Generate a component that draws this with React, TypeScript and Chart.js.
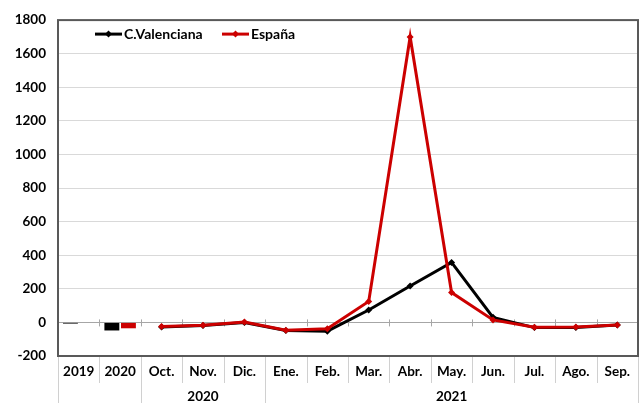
import React, { useEffect, useRef } from "react";
import { Chart, registerables } from "chart.js";

Chart.register(...registerables);

const categories = ["2019", "2020", "Oct.", "Nov.", "Dic.", "Ene.", "Feb.", "Mar.", "Abr.", "May.", "Jun.", "Jul.", "Ago.", "Sep."];
const groupLabels = [
  { label: "", from: 0, to: 1 },
  { label: "2020", from: 2, to: 4 },
  { label: "2021", from: 5, to: 13 },
];
const seriesNames = ["C.Valenciana", "España"];
const cvAnnual = [-7, -48];
const esAnnual = [-3, -35];
const cvMonthly = [-27, -19, 0, -48, -52, 74, 217, 357, 30, -31, -30, -16];
const esMonthly = [-25, -17, 2, -46, -38, 125, 1700, 178, 15, -29, -27, -15];
const yTicks = { min: -200, max: 1800, step: 200 };

const BLACK = "#000000";
const RED = "#cc0000";
const FONT = "Lato";

export default function App() {
  const ref = useRef<HTMLCanvasElement | null>(null);
  useEffect(() => {
    document.body.style.margin = "0";
    const canvas = ref.current;
    if (!canvas) return;
    const pad = (arr: number[], before: number, total: number) => {
      const out: (number | null)[] = [];
      for (let i = 0; i < total; i++) {
        const j = i - before;
        out.push(j >= 0 && j < arr.length ? arr[j] : null);
      }
      return out;
    };
    const n = categories.length;

    const overlay = {
      id: "overlay",
      beforeDatasetsDraw(chart: any) {
        const ctx = chart.ctx;
        const a = chart.chartArea;
        const y = chart.scales.y;
        const y0 = y.getPixelForValue(0);
        const w = (a.right - a.left) / n;
        ctx.save();
        ctx.strokeStyle = "#a6a6a6";
        ctx.lineWidth = 1;
        ctx.beginPath();
        ctx.moveTo(a.left, Math.round(y0) + 0.5);
        ctx.lineTo(a.right, Math.round(y0) + 0.5);
        for (let k = 1; k < n; k++) {
          const x = Math.round(a.left + k * w) + 0.5;
          ctx.moveTo(x, y0 - 3);
          ctx.lineTo(x, y0 + 4);
        }
        ctx.stroke();
        ctx.restore();
      },
      afterDraw(chart: any) {
        const ctx = chart.ctx;
        const a = chart.chartArea;
        const xs = chart.scales.x;
        const w = (a.right - a.left) / n;
        const H = chart.height;
        ctx.save();
        ctx.strokeStyle = "#d0d0d0";
        ctx.lineWidth = 1;
        ctx.beginPath();
        const majors = new Set<number>();
        groupLabels.forEach((g) => { majors.add(g.from); majors.add(g.to + 1); });
        for (let k = 0; k <= n; k++) {
          const x = Math.round(a.left + k * w) + 0.5;
          ctx.moveTo(x, a.bottom);
          ctx.lineTo(x, majors.has(k) ? H : a.bottom + 27);
        }
        ctx.stroke();
        ctx.fillStyle = "#000";
        ctx.font = `bold 13.5px ${FONT}`;
        ctx.textAlign = "center";
        ctx.textBaseline = "middle";
        categories.forEach((c, i) => {
          ctx.fillText(c, xs.getPixelForValue(i), a.bottom + 16);
        });
        groupLabels.forEach((g) => {
          if (!g.label) return;
          const x = a.left + ((g.from + g.to + 1) / 2) * w;
          ctx.fillText(g.label, x, a.bottom + 41);
        });
        ctx.strokeStyle = "#595959";
        ctx.lineWidth = 2;
        ctx.strokeRect(a.left, a.top, a.right - a.left, a.bottom - a.top);
        const items = [
          { name: seriesNames[0], color: BLACK, x: 95 },
          { name: seriesNames[1], color: RED, x: 222 },
        ];
        const ly = a.top + 14;
        ctx.font = `bold 14px ${FONT}`;
        items.forEach((it) => {
          ctx.strokeStyle = it.color;
          ctx.fillStyle = it.color;
          ctx.lineWidth = 3;
          ctx.beginPath();
          ctx.moveTo(it.x, ly);
          ctx.lineTo(it.x + 27, ly);
          ctx.stroke();
          const cx = it.x + 13.5;
          ctx.beginPath();
          ctx.moveTo(cx, ly - 3.5);
          ctx.lineTo(cx + 3.5, ly);
          ctx.lineTo(cx, ly + 3.5);
          ctx.lineTo(cx - 3.5, ly);
          ctx.closePath();
          ctx.fill();
          ctx.fillStyle = "#000";
          ctx.textAlign = "left";
          ctx.fillText(it.name, it.x + 29, ly);
        });
        ctx.restore();
      },
    };

    const chart = new Chart(canvas, {
      data: {
        labels: categories,
        datasets: [
          { type: "bar", label: seriesNames[0], data: pad(cvAnnual, 0, n), backgroundColor: BLACK, order: 2, categoryPercentage: 0.8, barPercentage: 0.9 } as any,
          { type: "bar", label: seriesNames[1], data: pad(esAnnual, 0, n), backgroundColor: RED, order: 3, categoryPercentage: 0.8, barPercentage: 0.9 } as any,
          { type: "line", label: seriesNames[0], data: pad(cvMonthly, 2, n), borderColor: BLACK, backgroundColor: BLACK, borderWidth: 3, pointStyle: "rectRot", pointRadius: 3.5, pointBorderWidth: 0, tension: 0, order: 1 } as any,
          { type: "line", label: seriesNames[1], data: pad(esMonthly, 2, n), borderColor: RED, backgroundColor: RED, borderWidth: 3, pointStyle: "rectRot", pointRadius: 3.5, pointBorderWidth: 0, tension: 0, order: 0 } as any,
        ],
      },
      options: {
        responsive: false,
        animation: false,
        devicePixelRatio: 1,
        layout: { padding: { top: 12, right: 4, left: 0, bottom: 0 } },
        plugins: { legend: { display: false }, tooltip: { enabled: false } },
        scales: {
          x: {
            type: "category",
            offset: true,
            grid: { display: false },
            border: { display: false },
            ticks: { display: false },
            afterFit: (s: any) => { s.height = 47; },
          },
          y: {
            min: yTicks.min,
            max: yTicks.max,
            ticks: {
              stepSize: yTicks.step,
              color: "#000",
              font: { family: FONT, size: 13.5, weight: "bold" },
              padding: 12,
              callback: (v: any) => String(v),
            },
            grid: { color: "#d9d9d9", drawTicks: false },
            border: { display: false },
            afterFit: (s: any) => { s.width = 58; },
          },
        },
      } as any,
      plugins: [overlay],
    });
    return () => chart.destroy();
  }, []);
  return (
    <div style={{ width: 642, height: 403, background: "#fff" }}>
      <canvas ref={ref} width={642} height={403} />
    </div>
  );
}
